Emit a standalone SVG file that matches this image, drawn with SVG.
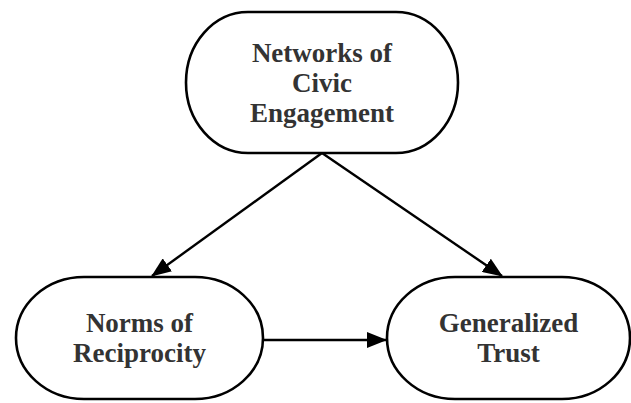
<svg xmlns="http://www.w3.org/2000/svg" width="631" height="403" viewBox="0 0 631 403">
  <style>
    .node { fill: #ffffff; stroke: #000000; stroke-width: 2.6; }
    .label { font-family: "Liberation Serif", "Times New Roman", serif; font-weight: bold; font-size: 27px; fill: #333333; text-anchor: middle; }
    .edge { stroke: #000000; stroke-width: 2.4; fill: none; marker-end: url(#arrow); }
  </style>
  <defs>
    <marker id="arrow" markerUnits="userSpaceOnUse" markerWidth="20" markerHeight="16" viewBox="0 0 20 16" refX="19" refY="8" orient="auto">
      <path d="M0,0 L20,8 L0,16 Z" fill="#000000"/>
    </marker>
  </defs>
  <rect width="631" height="403" fill="#ffffff"/>

  <g id="connectors">
    <line class="edge" x1="322" y1="153" x2="152" y2="276"/>
    <line class="edge" x1="322" y1="153" x2="502" y2="276"/>
    <line class="edge" x1="263" y1="340" x2="386" y2="340"/>
  </g>

  <g id="networks-of-civic-engagement">
    <rect class="node" x="186" y="12" width="272" height="141" rx="62" ry="70.5"/>
    <text class="label" x="322" y="62">Networks of</text>
    <text class="label" x="322" y="92">Civic</text>
    <text class="label" x="322" y="122">Engagement</text>
  </g>

  <g id="norms-of-reciprocity">
    <rect class="node" x="16" y="277" width="247" height="122" rx="68" ry="61"/>
    <text class="label" x="139.5" y="332">Norms of</text>
    <text class="label" x="139.5" y="362">Reciprocity</text>
  </g>

  <g id="generalized-trust">
    <rect class="node" x="387" y="277" width="243" height="122" rx="68" ry="61"/>
    <text class="label" x="508.5" y="332">Generalized</text>
    <text class="label" x="508.5" y="362">Trust</text>
  </g>
</svg>
